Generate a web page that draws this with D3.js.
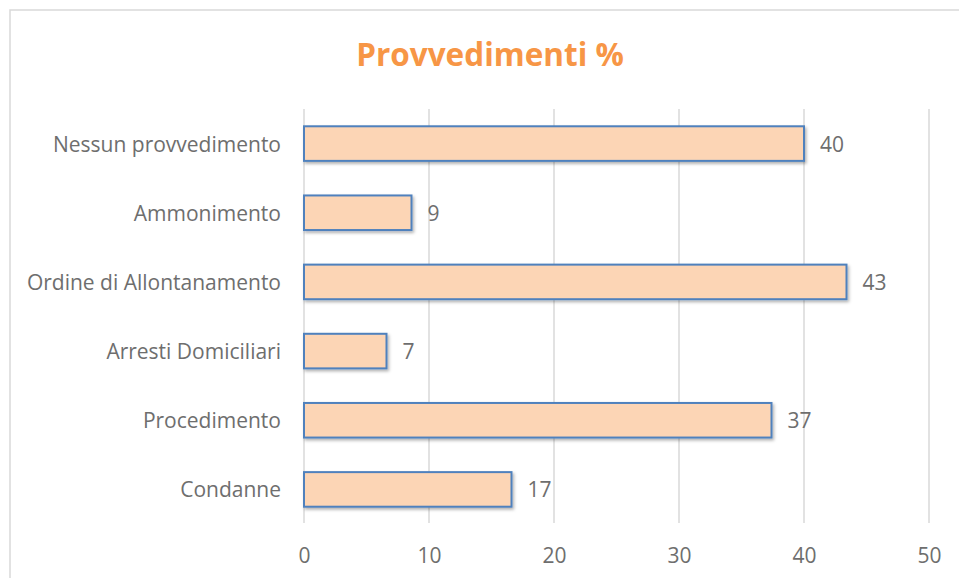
<!DOCTYPE html>
<html><head><meta charset="utf-8">
<script src="https://cdn.jsdelivr.net/npm/d3@7"></script>
<style>body{margin:0;background:#fff;}svg{display:block;}</style>
</head><body>
<svg id="chart" width="959" height="578"></svg>
<script>
const categories = ["Nessun provvedimento","Ammonimento","Ordine di Allontanamento","Arresti Domiciliari","Procedimento","Condanne"];
const values = [40.0, 8.6, 43.4, 6.6, 37.4, 16.6];
const labels = ["40","9","43","7","37","17"];
const xTicks = [0,10,20,30,40,50];
const title = "Provvedimenti %";

const svg = d3.select("#chart");
const font = "'Open Sans', 'Noto Sans', sans-serif";
const textColor = "#6E6E6E";

svg.append("rect").attr("x",10).attr("y",10).attr("width",980).attr("height",600)
  .attr("fill","#fff").attr("stroke","#D9D9D9").attr("stroke-width",1.5);

const defs = svg.append("defs");
const f = defs.append("filter").attr("id","sh").attr("x","-10%").attr("y","-30%").attr("width","130%").attr("height","180%");
f.append("feDropShadow").attr("dx",1.5).attr("dy",2).attr("stdDeviation",1.5).attr("flood-color","#000").attr("flood-opacity",0.3);

const x = d3.scaleLinear().domain([0,50]).range([304,929]);
const y = d3.scaleBand().domain(categories).range([109,524]).paddingInner(0.5).paddingOuter(0.25);

svg.append("text").attr("x",490).attr("y",66).attr("text-anchor","middle")
  .attr("font-family",font).attr("font-weight","bold").attr("font-size",31.5)
  .attr("fill","#F79646").text(title);

// gridlines
svg.append("g").selectAll("line").data(xTicks).join("line")
  .attr("x1",d=>x(d)).attr("x2",d=>x(d)).attr("y1",109).attr("y2",523)
  .attr("stroke","#D9D9D9").attr("stroke-width",1.5);

// x axis
const xAxis = d3.axisBottom(x).tickValues(xTicks).tickSize(0).tickPadding(0);
const gx = svg.append("g").attr("transform","translate(0,523)").call(xAxis);
gx.select(".domain").remove();
gx.selectAll("text").attr("font-family",font).attr("font-size",21).attr("fill",textColor).attr("dy",0).attr("y",40);

// y axis
const yAxis = d3.axisLeft(y).tickSize(0).tickPadding(0);
const gy = svg.append("g").attr("transform","translate(281,0)").call(yAxis);
gy.select(".domain").remove();
gy.selectAll("text").attr("font-family",font).attr("font-size",21).attr("fill",textColor).attr("dy","0.38em");

// bars
svg.append("g").selectAll("rect").data(categories).join("rect")
  .attr("x",x(0)).attr("y",d=>y(d)).attr("width",(d,i)=>x(values[i])-x(0)).attr("height",y.bandwidth())
  .attr("fill","#FCD5B5").attr("stroke","#4F81BD").attr("stroke-width",2).attr("filter","url(#sh)");

// data labels
svg.append("g").selectAll("text").data(categories).join("text")
  .attr("x",(d,i)=>x(values[i])+16).attr("y",d=>y(d)+y.bandwidth()/2).attr("dy","0.38em")
  .attr("font-family",font).attr("font-size",21).attr("fill",textColor)
  .text((d,i)=>labels[i]);
</script>
</body></html>
